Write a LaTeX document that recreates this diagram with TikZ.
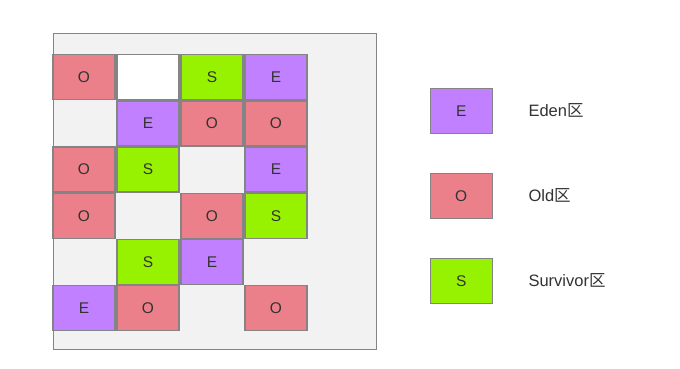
\documentclass[tikz,border=0pt]{standalone}
\usepackage{fontspec}
\setmainfont{Liberation Sans}
\newfontfamily\cjk{Noto Sans CJK SC}
\definecolor{oldc}{HTML}{EC808A}
\definecolor{edenc}{HTML}{C080FF}
\definecolor{survc}{HTML}{96F200}
\definecolor{bgc}{HTML}{F2F2F2}
\definecolor{edgec}{HTML}{848484}
\definecolor{txtc}{HTML}{333333}
\tikzset{
  cell/.style={draw=edgec, line width=1.4pt, minimum width=62pt, minimum height=45pt, inner sep=0pt, anchor=north west, text=txtc, font=\fontsize{15.5}{18}\selectfont},
  oc/.style={cell, fill=oldc},
  ec/.style={cell, fill=edenc},
  sc/.style={cell, fill=survc},
  wc/.style={cell, fill=white},
  lab/.style={anchor=west, text=txtc, font=\fontsize{16.5}{19}\selectfont, inner sep=0pt},
}
\begin{document}
\begin{tikzpicture}[x=1pt,y=-1pt]
\useasboundingbox (0,0) rectangle (680,368);
\fill[white] (0,0) rectangle (680,368);
\node[draw=edgec, line width=1pt, fill=bgc, minimum width=323pt, minimum height=316pt, anchor=north west, inner sep=0pt] (heap) at (52.5,33) {};
% row 1
\node[oc] (r1c1) at (52.3,54) {O};
\node[wc] (r1c2) at (116.3,54) {};
\node[sc] (r1c3) at (180.3,54) {S};
\node[ec] (r1c4) at (244.3,54) {E};
% row 2
\node[ec] (r2c2) at (116.3,100.2) {E};
\node[oc] (r2c3) at (180.3,100.2) {O};
\node[oc] (r2c4) at (244.3,100.2) {O};
% row 3
\node[oc] (r3c1) at (52.3,146.4) {O};
\node[sc] (r3c2) at (116.3,146.4) {S};
\node[ec] (r3c4) at (244.3,146.4) {E};
% row 4
\node[oc] (r4c1) at (52.3,192.6) {O};
\node[oc] (r4c3) at (180.3,192.6) {O};
\node[sc] (r4c4) at (244.3,192.6) {S};
% row 5
\node[sc] (r5c2) at (116.3,238.8) {S};
\node[ec] (r5c3) at (180.3,238.8) {E};
% row 6
\node[ec] (r6c1) at (52.3,285) {E};
\node[oc] (r6c2) at (116.3,285) {O};
\node[oc] (r6c4) at (244.3,285) {O};
% legend
\node[ec] (le) at (429.5,88) {E};
\node[oc] (lo) at (429.5,173) {O};
\node[sc] (ls) at (429.5,258) {S};
\node[lab] (te) at (528.3,110.5) {Eden{\cjk 区}};
\node[lab] (to) at (528.3,195.5) {Old{\cjk 区}};
\node[lab] (ts) at (528.3,280.5) {Survivor{\cjk 区}};
\end{tikzpicture}
\end{document}
